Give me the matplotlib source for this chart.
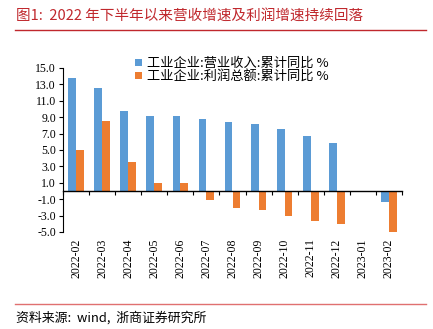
import matplotlib
matplotlib.use("Agg")
import matplotlib.pyplot as plt
import numpy as np
from matplotlib.lines import Line2D
from matplotlib.patches import Patch

months = ["2022-02", "2022-03", "2022-04", "2022-05", "2022-06", "2022-07",
          "2022-08", "2022-09", "2022-10", "2022-11", "2022-12", "2023-01", "2023-02"]
revenue = [13.8, 12.6, 9.8, 9.1, 9.1, 8.8, 8.4, 8.2, 7.6, 6.7, 5.9, np.nan, -1.3]
profit = [5.0, 8.5, 3.5, 1.0, 1.0, -1.1, -2.1, -2.3, -3.0, -3.6, -4.0, np.nan, -22.9]
yticks = [15.0, 13.0, 11.0, 9.0, 7.0, 5.0, 3.0, 1.0, -1.0, -3.0, -5.0]
series_names = ["工业企业:营业收入:累计同比 %", "工业企业:利润总额:累计同比 %"]
title = "图1:  2022 年下半年以来营收增速及利润增速持续回落"
source = "资料来源:  wind,  浙商证券研究所"

cjk = ["Noto Sans CJK SC", "DejaVu Sans"]
serif = ["Liberation Serif", "DejaVu Serif"]

W, H = 433, 329
fig = plt.figure(figsize=(W / 100, H / 100), dpi=100)
ax = fig.add_axes([63 / W, 1 - 232 / H, (402 - 63) / W, (232 - 68) / H])

blue = "#5B9BD5"
orange = "#ED7D31"
x = np.arange(len(months))
bw = 0.3
ax.bar(x - bw / 2, revenue, bw, color=blue, label=series_names[0])
ax.bar(x + bw / 2, profit, bw, color=orange, label=series_names[1])

ax.set_xlim(-0.5, len(months) - 0.5)
ax.set_ylim(-5, 15)
ax.set_yticks(yticks)
ax.set_yticklabels([f"{v:.1f}" for v in yticks], family=serif, fontsize=8.5)
ax.tick_params(axis="y", direction="out", length=3, width=0.8, pad=2)

ax.spines["top"].set_visible(False)
ax.spines["right"].set_visible(False)
ax.spines["bottom"].set_position(("data", 0))
ax.spines["left"].set_linewidth(0.8)
ax.spines["bottom"].set_linewidth(1.0)

ax.set_xticks(np.arange(len(months) + 1) - 0.5)
ax.set_xticklabels([])
ax.tick_params(axis="x", direction="out", length=3, width=0.8)

trans = ax.get_xaxis_transform()
for xi, lab in zip(x, months):
    ax.text(xi, -0.04, lab, rotation=90, ha="center", va="top",
            transform=trans, family=serif, fontsize=8.5)

handles = [Patch(facecolor=blue, edgecolor="none"), Patch(facecolor=orange, edgecolor="none")]
fig.legend(handles, series_names, loc="upper left",
           bbox_to_anchor=(135 / W, 1 - 57 / H), frameon=False,
           prop={"family": cjk, "size": 9.5}, handlelength=0.5, handleheight=0.5,
           handletextpad=0.4, labelspacing=0.0, borderaxespad=0, borderpad=0)

red = "#C0282D"
fig.text(16 / W, 1 - 16 / H, title, color=red, fontsize=10.5, family=cjk,
         ha="left", va="center")
fig.add_artist(Line2D([15 / W, 426 / W], [1 - 29.5 / H, 1 - 29.5 / H], color=red, lw=1.0))
fig.add_artist(Line2D([15 / W, 426 / W], [1 - 303.5 / H, 1 - 303.5 / H], color="#E07070", lw=1.0))
fig.text(16 / W, 1 - 318 / H, source, color="black", fontsize=9.3, family=cjk,
         ha="left", va="center")

fig.savefig("out.png", dpi=100)
